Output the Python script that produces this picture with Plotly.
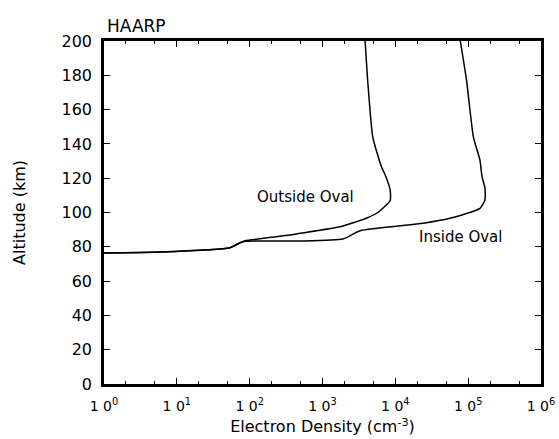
import plotly.graph_objects as go

# Outside Oval profile (electron density cm^-3, altitude km)
outside_density = [1.0, 5.9, 53.7, 74, 87, 355, 490, 1740, 4070, 5750, 8500, 8500, 7240, 6460, 4900, 4170, 3850]
outside_altitude = [76.4, 77, 79.5, 82.4, 83.5, 86.9, 87.9, 91.7, 96.8, 100, 107, 113, 122, 126.5, 144, 177, 200]

# Inside Oval profile
inside_density = [1.0, 5.9, 53.7, 74, 87, 490, 1900, 3300, 24000, 56000, 145000, 170000, 170000, 155000, 145000, 118000, 95000, 78000]
inside_altitude = [76.4, 77, 79.5, 82.4, 83.3, 83.4, 84.5, 89.4, 93.7, 96.6, 102.4, 107.3, 114.3, 120.9, 130.6, 144, 177, 200]

x_tick_vals = [1, 10, 100, 1000, 10000, 100000, 1000000]
x_tick_text = ["1 0<sup>0</sup>", "1 0<sup>1</sup>", "1 0<sup>2</sup>", "1 0<sup>3</sup>",
               "1 0<sup>4</sup>", "1 0<sup>5</sup>", "1 0<sup>6</sup>"]
y_tick_vals = list(range(0, 201, 20))

font_family = "DejaVu Sans"

fig = go.Figure()
fig.add_trace(go.Scatter(x=outside_density, y=outside_altitude, mode="lines",
                         line=dict(color="black", width=1.5, shape="spline", smoothing=0.5),
                         showlegend=False))
fig.add_trace(go.Scatter(x=inside_density, y=inside_altitude, mode="lines",
                         line=dict(color="black", width=1.5, shape="spline", smoothing=0.5),
                         showlegend=False))

fig.add_annotation(x=2.76, y=109, xref="x", yref="y", text="Outside Oval", showarrow=False,
                   font=dict(family=font_family, size=15, color="black"))
fig.add_annotation(x=4.89, y=85.9, xref="x", yref="y", text="Inside Oval", showarrow=False,
                   font=dict(family=font_family, size=15, color="black"))
fig.add_annotation(x=0, y=1, xref="paper", yref="paper", xanchor="left", yanchor="bottom",
                   yshift=3, xshift=1, text="HAARP", showarrow=False,
                   font=dict(family=font_family, size=17, color="black"))

fig.update_xaxes(type="log", range=[0, 6], tickvals=x_tick_vals, ticktext=x_tick_text,
                 ticks="inside", ticklen=6, tickwidth=1.2, tickcolor="black",
                 minor=dict(ticks="inside", ticklen=3, tickwidth=1, tickcolor="black"),
                 showline=True, linewidth=2.5, linecolor="black", mirror="allticks",
                 showgrid=False, zeroline=False, ticklabelstandoff=7, automargin=False,
                 tickfont=dict(family=font_family, size=14, color="black"),
                 title=dict(text="Electron Density (cm<sup>-3</sup>)",
                            font=dict(family=font_family, size=16, color="black"), standoff=9))
fig.update_yaxes(range=[0, 200], tickvals=y_tick_vals,
                 ticks="inside", ticklen=6, tickwidth=1.2, tickcolor="black",
                 showline=True, linewidth=2.5, linecolor="black", mirror="allticks",
                 showgrid=False, zeroline=False, ticklabelstandoff=6, automargin=False,
                 tickfont=dict(family=font_family, size=16, color="black"),
                 title=dict(text="Altitude (km)",
                            font=dict(family=font_family, size=16, color="black"), standoff=32))

fig.update_layout(width=559, height=439, margin=dict(l=104, r=18, t=41, b=55),
                  plot_bgcolor="white", paper_bgcolor="white")

fig.write_html("out.html")
